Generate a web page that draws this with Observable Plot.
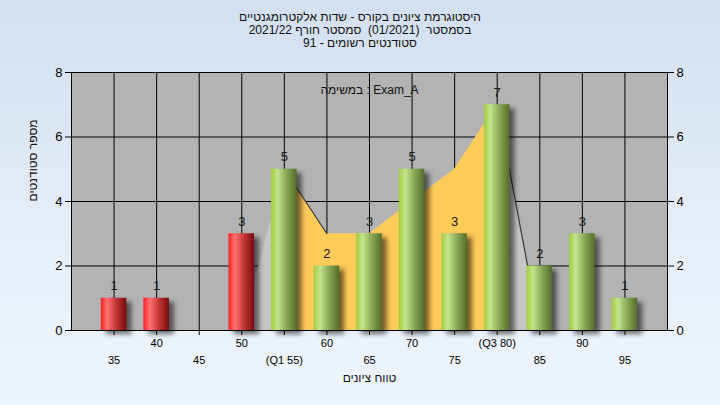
<!DOCTYPE html>
<html>
<head>
<meta charset="utf-8">
<script src="https://cdn.jsdelivr.net/npm/d3@7"></script>
<script src="https://cdn.jsdelivr.net/npm/@observablehq/plot@0.6"></script>
<style>
  html, body { margin: 0; padding: 0; }
  body {
    width: 720px; height: 405px; overflow: hidden;
    background: linear-gradient(to bottom, #d3e0f0 0%, #e6eef8 60%, #eef5fc 100%);
    font-family: "Liberation Sans", Arial, sans-serif;
  }
  #title {
    height: 52px; box-sizing: border-box; padding-top: 11px;
    text-align: center; font-size: 12px; line-height: 13px; color: #111;
  }
  .shadow { filter: blur(2.5px); }
</style>
</head>
<body>
<div id="title"></div>
<div id="chart"></div>
<script>
// ---- data ----
const titleLines = [
  "היסטוגרמת ציונים בקורס - שדות אלקטרומגנטיים",
  "בסמסטר  (01/2021)  סמסטר חורף 2021/22",
  "סטודנטים רשומים - 91"
];
const yLabel = "מספר סטודנטים";
const xLabel = "טווח ציונים";
const note = "במשימה : Exam_A";

const grades = [35, 40, 45, 50, 55, 60, 65, 70, 75, 80, 85, 90, 95];
const counts = [1, 1, 0, 3, 5, 2, 3, 5, 3, 7, 2, 3, 1];
const tickLabels = ["35", "40", "45", "50", "(Q1 55)", "60", "65", "70", "75", "(Q3 80)", "85", "90", "95"];
const passGrade = 55;
const q1 = 55, q3 = 80;

const areaX = [50, 55, 60, 65, 70, 75, 80, 85];
const areaY = [0, 5, 3, 3, 4, 5, 7, 0];

const yTicks = [0, 2, 4, 6, 8];

// ---- title ----
const titleEl = document.getElementById("title");
titleLines.forEach(t => {
  const d = document.createElement("div");
  d.dir = "rtl";
  d.style.whiteSpace = "pre";
  d.textContent = t;
  titleEl.appendChild(d);
});

// ---- tables ----
const bars = grades.map((g, i) => ({x: g, n: counts[i]})).filter(d => d.n > 0);
const redBars = bars.filter(d => d.x < passGrade);
const greenBars = bars.filter(d => d.x >= passGrade);
const area = areaX.map((x, i) => ({x, y: areaY[i]}));
const inner = area.filter(d => d.x >= q1 && d.x <= q3);
const falling = [];
for (let i = 1; i < area.length; i++) {
  if (area[i].y < area[i - 1].y) falling.push([area[i - 1], area[i]]);
}
const halfW = 1.5;
const upper = grades.filter((d, i) => i % 2 === 1);
const lower = grades.filter((d, i) => i % 2 === 0);
const fmt = d => tickLabels[grades.indexOf(d)];

const plot = Plot.plot({
  width: 720,
  height: 353,
  marginLeft: 71,
  marginRight: 53,
  marginTop: 20,
  marginBottom: 75,
  style: {background: "transparent", fontFamily: "'Liberation Sans', Arial, sans-serif", color: "#000", overflow: "visible"},
  x: {type: "linear", domain: [30, 100]},
  y: {domain: [0, 8]},
  marks: [
    Plot.frame({fill: "#b3b3b3"}),
    Plot.gridY({ticks: yTicks, stroke: "#000", strokeOpacity: 1}),
    Plot.gridX({ticks: grades, stroke: "#000", strokeOpacity: 1}),
    Plot.areaY(area, {x: "x", y: "y", fill: "#c6c6c6"}),
    Plot.areaY(inner, {x: "x", y: "y", fill: "#ffcc5a"}),
    ...falling.map(seg => Plot.line(seg, {x: "x", y: "y", stroke: "#3a3a3a", strokeWidth: 1.2})),
    Plot.rectY(bars, {x1: d => d.x - halfW, x2: d => d.x + halfW, y: "n", dx: 5, dy: 4, fill: "#000", fillOpacity: 0.55, className: "shadow"}),
    Plot.rectY(redBars, {x1: d => d.x - halfW, x2: d => d.x + halfW, y: "n", fill: "url(#gRed)"}),
    Plot.rectY(greenBars, {x1: d => d.x - halfW, x2: d => d.x + halfW, y: "n", fill: "url(#gGreen)"}),
    Plot.frame({stroke: "#000"}),
    Plot.axisY({ticks: yTicks, tickSize: 6, tickPadding: 3, fontSize: 13, label: null}),
    Plot.axisY({anchor: "right", ticks: yTicks, tickSize: 6, tickPadding: 3, fontSize: 13, label: null}),
    Plot.axisX({ticks: upper, tickSize: 5, tickPadding: 4, tickFormat: fmt, fontSize: 11, label: null}),
    Plot.axisX({ticks: lower, tickSize: 5, tickPadding: 21, tickFormat: fmt, fontSize: 11, label: null}),
    Plot.text(bars, {x: "x", y: "n", text: d => String(d.n), dy: -12, fontSize: 13, fill: "#161616"}),
    Plot.text([note], {frameAnchor: "top", dy: 13, text: d => d, fontSize: 12, fill: "#111"}),
    Plot.text([yLabel], {frameAnchor: "left", dx: -38, rotate: -90, text: d => d, fontSize: 12, fill: "#111"}),
    Plot.text([xLabel], {frameAnchor: "bottom", dy: 51, text: d => d, fontSize: 12, fill: "#111"})
  ]
});

const defs = document.createElementNS("http://www.w3.org/2000/svg", "defs");
defs.innerHTML = `
  <linearGradient id="gRed" x1="0" x2="1" y1="0" y2="0">
    <stop offset="0" stop-color="#ff2020"/>
    <stop offset="0.25" stop-color="#ff7272"/>
    <stop offset="0.6" stop-color="#c53535"/>
    <stop offset="1" stop-color="#760c0c"/>
  </linearGradient>
  <linearGradient id="gGreen" x1="0" x2="1" y1="0" y2="0">
    <stop offset="0" stop-color="#9fcd3e"/>
    <stop offset="0.25" stop-color="#c5e48c"/>
    <stop offset="0.6" stop-color="#8aa857"/>
    <stop offset="1" stop-color="#536e2a"/>
  </linearGradient>`;
plot.insertBefore(defs, plot.firstChild);
document.getElementById("chart").appendChild(plot);
</script>
</body>
</html>
